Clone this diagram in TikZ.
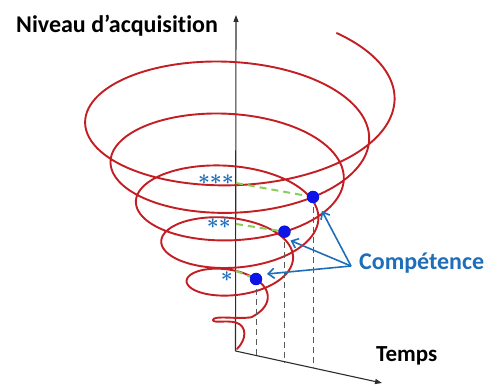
\documentclass[tikz,border=0pt]{standalone}
\usepackage{bm}
\usepackage{fontspec}
\setmainfont{Carlito}[Ligatures=NoCommon]
\usetikzlibrary{arrows.meta}
\definecolor{spiralred}{RGB}{195,30,35}
\definecolor{compblue}{RGB}{30,110,185}
\definecolor{dotblue}{RGB}{15,20,230}
\definecolor{dashgreen}{RGB}{140,205,90}
\definecolor{axisgray}{RGB}{45,45,45}
\definecolor{vgray}{RGB}{90,90,90}
\tikzset{
  axisline/.style={draw=axisgray, line width=1.1pt, -{Triangle[length=7pt,width=5pt]}},
  spiral/.style={draw=spiralred, line width=1.9pt, line join=round, line cap=round},
  greendash/.style={draw=dashgreen, line width=2pt, dash pattern=on 7pt off 5pt},
  vdash/.style={draw=vgray, line width=0.9pt, dash pattern=on 6pt off 4pt},
  dotnode/.style={circle, fill=dotblue, minimum size=12.5pt, inner sep=0pt},
  comparrow/.style={draw=compblue, line width=1.6pt, -{Straight Barb[length=6pt,width=10pt,line width=1.6pt]}},
  blacklabel/.style={font=\bfseries\fontsize{24}{28}\selectfont, text=black, inner sep=0pt},
  starlabel/.style={text=compblue, inner sep=0pt, font=\fontsize{22}{22}\selectfont},
}
\begin{document}
\begin{tikzpicture}[x=1pt,y=-1pt]
\useasboundingbox (0,0) rectangle (488,385);
\fill[white] (0,0) rectangle (488,385);

% axes
\coordinate (O) at (235.5,351);
\coordinate (ytip) at (236,15);
\coordinate (xtip) at (382,383);
\draw[axisline] (O) -- (ytip);
\draw[axisline] (O) -- (xtip);

% spiral
\draw[spiral] (237,349) .. controls (247,339) and (247,326) .. (236,322.5)
  .. controls (226,320) and (213,323.5) .. (213,320)
  .. controls (213,315) and (238,319.5) .. (251.27,317.25)
  -- plot[domain=0.6:5.897, samples=600, smooth, variable=\s]
  ({233.5+(15+25.4*\s)*cos(-90-360*\s)}, {329.5-39.8*\s+(7+12.3*\s)*sin(-90-360*\s)});

% points on the spiral
\coordinate (p1) at (256,279);
\coordinate (p2) at (284.5,231.7);
\coordinate (p3) at (313,197);

% vertical dashed lines to the time axis
\coordinate (a1) at (256,355.5);
\coordinate (a2) at (284.5,361.8);
\coordinate (a3) at (313,368);
\draw[vdash] (p1) -- (a1);
\draw[vdash] (p2) -- (a2);
\draw[vdash] (p3) -- (a3);

% green dashed lines from the axis
\coordinate (g1) at (236,271);
\coordinate (g2) at (236,224);
\coordinate (g3) at (236,183);
\draw[greendash] (g1) -- (p1);
\draw[greendash] (g2) -- (p2);
\draw[greendash] (g3) -- (p3);

% dots
\node[dotnode] (d1) at (p1) {};
\node[dotnode] (d2) at (p2) {};
\node[dotnode] (d3) at (p3) {};

% stars
\node[starlabel, anchor=east] (s3) at (234,180) {${\bm\ast}{\bm\ast}{\bm\ast}$};
\node[starlabel, anchor=east] (s2) at (231,224) {${\bm\ast}{\bm\ast}$};
\node[starlabel, anchor=east] (s1) at (233,277) {${\bm\ast}$};

% labels
\node[blacklabel, anchor=base west] (ylab) at (16,32.3) {Niveau d’acquisition};
\node[blacklabel, anchor=base west, font=\bfseries\fontsize{23}{28}\selectfont] (xlab) at (376,361.7) {Temps};
\node[anchor=base west, inner sep=0pt, text=compblue, font=\bfseries\fontsize{24}{28}\selectfont] (comp) at (359,269.3) {Compétence};

% arrows from the label
\coordinate (src) at (351,266);
\coordinate (t1) at (267,274);
\coordinate (t2) at (290.5,240.5);
\coordinate (t3) at (322,211);
\draw[comparrow] (src) -- (t1);
\draw[comparrow] (src) -- (t2);
\draw[comparrow] (src) -- (t3);
\end{tikzpicture}
\end{document}
